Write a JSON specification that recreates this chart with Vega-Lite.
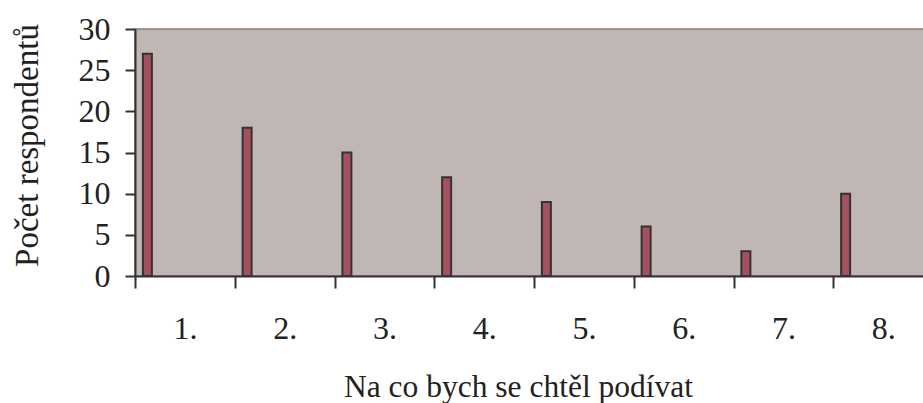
{
  "$schema": "https://vega.github.io/schema/vega-lite/v6.json",
  "autosize": "none",
  "width": 798,
  "height": 247,
  "padding": {"left": 135, "top": 29, "right": 0, "bottom": 127},
  "background": "white",
  "config": {
    "view": {"fill": "#c0b6b3", "stroke": "#8c7c78", "strokeWidth": 1.5},
    "font": "Liberation Serif"
  },
  "data": {
    "values": [
      {"k": "1.", "n": 27},
      {"k": "2.", "n": 18},
      {"k": "3.", "n": 15},
      {"k": "4.", "n": 12},
      {"k": "5.", "n": 9},
      {"k": "6.", "n": 6},
      {"k": "7.", "n": 3},
      {"k": "8.", "n": 10}
    ]
  },
  "mark": {"type": "bar", "width": 9, "xOffset": -37.5, "fill": "#a64f5f", "stroke": "#333333", "strokeWidth": 2},
  "encoding": {
    "x": {
      "field": "k", "type": "nominal", "sort": null,
      "scale": {"paddingInner": 0, "paddingOuter": 0},
      "axis": {
        "title": "Na co bych se chtěl podívat",
        "titleFont": "Liberation Serif", "titleFontSize": 31.5, "titleFontWeight": "normal", "titleColor": "#222222",
        "titleBaseline": "alphabetic", "titleAlign": "center", "titleAnchor": null,
        "titleX": 383, "titleY": 120,
        "labelFont": "Liberation Serif", "labelFontSize": 32, "labelColor": "#222222", "labelAngle": 0,
        "labelPadding": 25,
        "tickBand": "extent", "tickSize": 12, "tickColor": "#333333", "tickWidth": 2,
        "domainColor": "#333333", "domainWidth": 2, "grid": false
      }
    },
    "y": {
      "field": "n", "type": "quantitative",
      "scale": {"domain": [0, 30], "nice": false},
      "axis": {
        "title": "Počet respondentů",
        "titleFont": "Liberation Serif", "titleFontSize": 33, "titleFontWeight": "normal", "titleColor": "#222222",
        "titleBaseline": "alphabetic", "titleAlign": "center", "titleAngle": -90,
        "titleX": -98, "titleY": 116,
        "values": [0, 5, 10, 15, 20, 25, 30],
        "labelFont": "Liberation Serif", "labelFontSize": 32, "labelColor": "#222222",
        "labelPadding": 15,
        "tickSize": 10, "tickColor": "#333333", "tickWidth": 2,
        "domainColor": "#333333", "domainWidth": 2, "grid": false
      }
    }
  }
}
